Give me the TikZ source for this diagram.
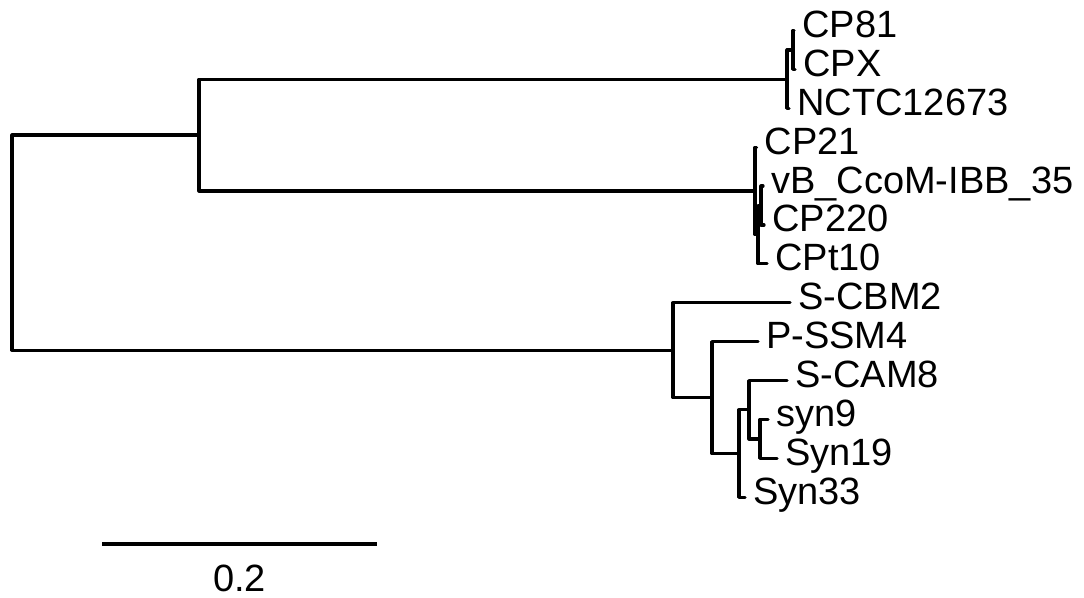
\documentclass[tikz,border=0pt]{standalone}
\usepackage{fontspec}
\setmainfont{Liberation Sans}
\begin{document}
\begin{tikzpicture}[x=0.75pt,y=-0.75pt,
  branch/.style={line width=2.4pt,line cap=round,line join=round},
  leaf/.style={anchor=base west,inner sep=0pt,xshift=6pt,yshift=-5.2pt,
    font=\fontsize{28.5}{31}\selectfont},
  scalelabel/.style={anchor=base,inner sep=0pt,font=\fontsize{28.5}{31}\selectfont}]
\useasboundingbox (0,0) rectangle (1084,598);
% tips
\coordinate (tCP81)  at (794,30.5);
\coordinate (tCPX)   at (795,69.4);
\coordinate (tNCTC)  at (789,108.3);
\coordinate (tCP21)  at (756.5,147.2);
\coordinate (tvB)    at (763,186.1);
\coordinate (tCP220) at (764,225);
\coordinate (tCPt10) at (767,263.9);
\coordinate (tSCBM2) at (790,302.8);
\coordinate (tPSSM4) at (758,341.7);
\coordinate (tSCAM8) at (787,380.6);
\coordinate (tsyn9)  at (768,419.5);
\coordinate (tSyn19) at (777,458.4);
\coordinate (tSyn33) at (745,497.3);
% internal nodes
\coordinate (B) at (793,50);
\coordinate (A) at (787,79.2);
\coordinate (F) at (761,205.6);
\coordinate (D) at (758,234.7);
\coordinate (C) at (755,191);
\coordinate (K) at (760,439);
\coordinate (J) at (749,409.8);
\coordinate (I) at (739,453.5);
\coordinate (H) at (712,397.6);
\coordinate (G) at (673,350.2);
\coordinate (U) at (199,135.1);
\coordinate (R) at (12,242.7);
% branches
\draw[branch] (tCP81) -| (B) |- (tCPX);
\draw[branch] (B) -| (A) |- (tNCTC);
\draw[branch] (tvB) -| (F) |- (tCP220);
\draw[branch] (F) -| (D) |- (tCPt10);
\draw[branch] (tCP21) -| (C) |- (D);
\draw[branch] (A) -| (U) |- (C);
\draw[branch] (tsyn9) -| (K) |- (tSyn19);
\draw[branch] (tSCAM8) -| (J) |- (K);
\draw[branch] (J) -| (I) |- (tSyn33);
\draw[branch] (tPSSM4) -| (H) |- (I);
\draw[branch] (tSCBM2) -| (G) |- (H);
\draw[branch] (U) -| (R) |- (G);
% labels
\path (tCP81)  node[leaf] (lCP81)  {CP81};
\path (tCPX)   node[leaf] (lCPX)   {CPX};
\path (tNCTC)  node[leaf] (lNCTC)  {NCTC12673};
\path (tCP21)  node[leaf] (lCP21)  {CP21};
\path (tvB)    node[leaf] (lvB)    {vB\_CcoM-IBB\_35};
\path (tCP220) node[leaf] (lCP220) {CP220};
\path (tCPt10) node[leaf] (lCPt10) {CPt10};
\path (tSCBM2) node[leaf] (lSCBM2) {S-CBM2};
\path (tPSSM4) node[leaf] (lPSSM4) {P-SSM4};
\path (tSCAM8) node[leaf] (lSCAM8) {S-CAM8};
\path (tsyn9)  node[leaf] (lsyn9)  {syn9};
\path (tSyn19) node[leaf] (lSyn19) {Syn19};
\path (tSyn33) node[leaf] (lSyn33) {Syn33};
% scale bar
\coordinate (s1) at (102,544);
\coordinate (s2) at (377,544);
\draw[branch,line cap=butt] (s1) -- (s2);
\node[scalelabel] (slab) at (239.5,591) {0.2};
\end{tikzpicture}
\end{document}
